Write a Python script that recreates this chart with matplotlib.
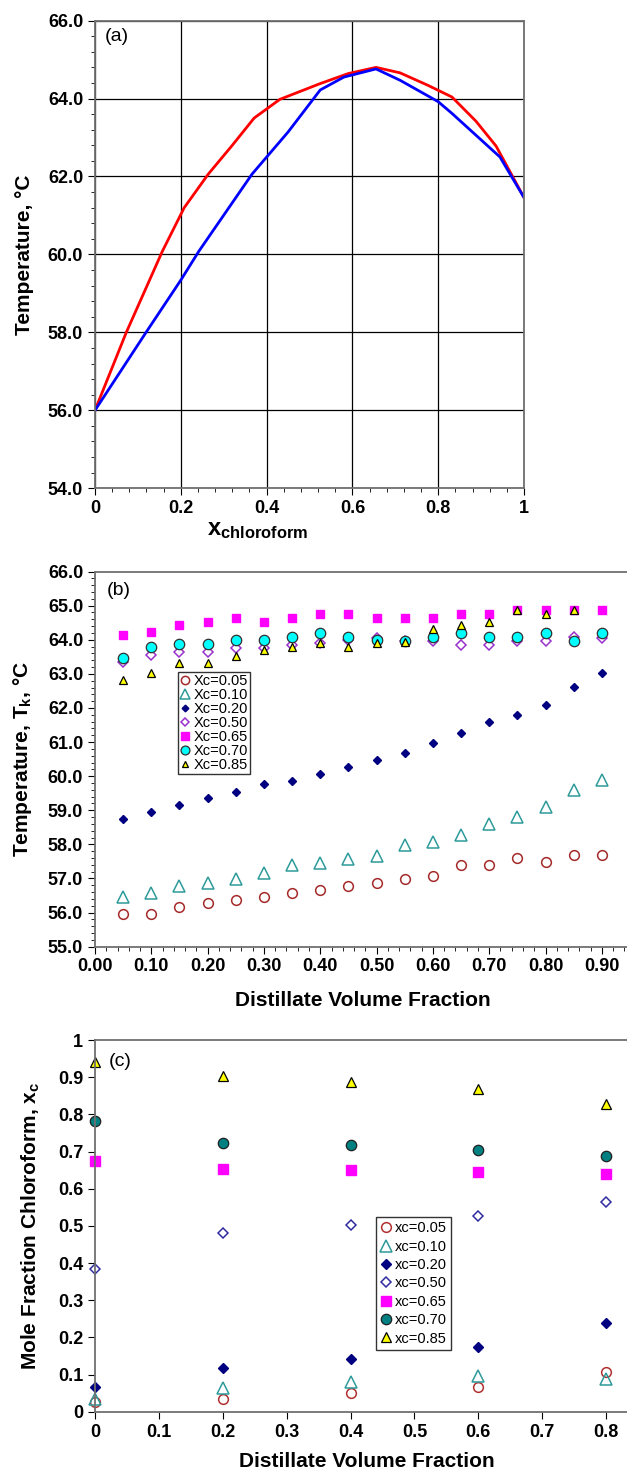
import numpy as np
import matplotlib
matplotlib.use('Agg')
import matplotlib.pyplot as plt
from matplotlib.ticker import MultipleLocator, FuncFormatter, FormatStrFormatter

plt.rcParams['font.family'] = ['Liberation Sans', 'DejaVu Sans']
plt.rcParams['font.weight'] = 'bold'
plt.rcParams['axes.labelweight'] = 'bold'
plt.rcParams['mathtext.fontset'] = 'custom'
plt.rcParams['mathtext.bf'] = 'Liberation Sans:bold'
plt.rcParams['mathtext.rm'] = 'Liberation Sans:bold'
plt.rcParams['mathtext.default'] = 'bf'

# (a) T-x-y diagram, acetone / chloroform
x_red = [0.0, 0.073, 0.157, 0.208, 0.264, 0.32, 0.371, 0.431, 0.524, 0.59, 0.655,
         0.711, 0.776, 0.832, 0.888, 0.935, 1.0]
T_red = [56.0, 58.0, 60.08, 61.2, 62.06, 62.8, 63.5, 63.98, 64.38, 64.64, 64.8,
         64.66, 64.34, 64.04, 63.42, 62.78, 61.46]
x_blue = [0.0, 0.119, 0.2, 0.242, 0.366, 0.45, 0.525, 0.58, 0.655, 0.711, 0.8,
          0.832, 0.944, 1.0]
T_blue = [56.0, 58.0, 59.34, 60.08, 62.06, 63.14, 64.22, 64.55, 64.76, 64.47, 63.92,
          63.62, 62.5, 61.46]

# (b) temperature vs distillate volume fraction
dvf_b = [0.05, 0.10, 0.15, 0.20, 0.25, 0.30, 0.35, 0.40, 0.45, 0.50, 0.55, 0.60,
         0.65, 0.70, 0.75, 0.80, 0.85, 0.90]
T_xc005 = [55.97, 55.97, 56.17, 56.27, 56.37, 56.47, 56.57, 56.67, 56.77, 56.87,
           56.98, 57.08, 57.39, 57.39, 57.59, 57.49, 57.68, 57.69]
T_xc010 = [56.46, 56.58, 56.77, 56.87, 56.97, 57.16, 57.38, 57.46, 57.57, 57.67,
           57.97, 58.07, 58.28, 58.59, 58.8, 59.09, 59.6, 59.89]
T_xc020 = [58.75, 58.95, 59.15, 59.36, 59.55, 59.76, 59.85, 60.07, 60.26, 60.48,
           60.67, 60.98, 61.28, 61.58, 61.79, 62.09, 62.61, 63.02]
T_xc050 = [63.35, 63.55, 63.65, 63.65, 63.75, 63.75, 63.85, 63.9, 64.0, 64.05,
           63.95, 63.95, 63.85, 63.85, 63.95, 63.95, 64.08, 64.05]
T_xc065 = [64.14, 64.24, 64.44, 64.53, 64.65, 64.53, 64.65, 64.75, 64.75, 64.65,
           64.63, 64.63, 64.75, 64.75, 64.86, 64.86, 64.86, 64.86]
T_xc070 = [63.48, 63.78, 63.88, 63.88, 64.0, 64.0, 64.09, 64.19, 64.09, 63.98,
           63.97, 64.08, 64.19, 64.08, 64.08, 64.19, 63.97, 64.19]
T_xc085 = [62.82, 63.02, 63.31, 63.31, 63.51, 63.7, 63.8, 63.9, 63.8, 63.9,
           63.92, 64.31, 64.44, 64.53, 64.86, 64.75, 64.86]

# (c) distillate mole fraction chloroform
dvf_c = [0.0, 0.2, 0.4, 0.6, 0.8]
x_xc005 = [0.027, 0.034, 0.049, 0.066, 0.108]
x_xc010 = [0.033, 0.063, 0.079, 0.096, 0.087]
x_xc020 = [0.066, 0.117, 0.142, 0.175, 0.240]
x_xc050 = [0.385, 0.480, 0.502, 0.526, 0.565]
x_xc065 = [0.675, 0.652, 0.649, 0.646, 0.639]
x_xc070 = [0.782, 0.724, 0.717, 0.703, 0.687]
x_xc085 = [0.941, 0.902, 0.887, 0.867, 0.829]

fig = plt.figure(figsize=(6.27, 14.72), dpi=100)
ax1 = fig.add_axes([0.1515, 0.6683, 0.6842, 0.3177])
ax2 = fig.add_axes([0.1515, 0.3569, 0.8533, 0.2548])
ax3 = fig.add_axes([0.1515, 0.04096, 0.866, 0.2525])

spine_col = '#707070'
for ax in (ax1, ax2, ax3):
    for s in ax.spines.values():
        s.set_color(spine_col)
        s.set_linewidth(1.3)
    ax.tick_params(which='both', direction='out', labelsize=13, colors='black')
    ax.tick_params(which='major', length=5)
    ax.tick_params(which='minor', length=3)

# ---------- (a)
ax1.plot(x_red, T_red, color='#FF0000', lw=2.0)
ax1.plot(x_blue, T_blue, color='#0000FF', lw=2.0)
ax1.set_xlim(0, 1)
ax1.set_ylim(54, 66)
ax1.xaxis.set_major_locator(MultipleLocator(0.2))
ax1.xaxis.set_minor_locator(MultipleLocator(0.04))
ax1.yaxis.set_major_locator(MultipleLocator(2))
ax1.yaxis.set_minor_locator(MultipleLocator(0.4))
ax1.xaxis.set_major_formatter(FuncFormatter(lambda v, p: '{:g}'.format(round(v, 2))))
ax1.yaxis.set_major_formatter(FormatStrFormatter('%.1f'))
ax1.grid(True, which='major', color='black', lw=0.9)
ax1.set_axisbelow(True)
ax1.set_ylabel('Temperature, °C', fontsize=15, fontweight='bold')
ax1.yaxis.set_label_coords(-0.142, 0.5)
ax1.set_xlabel(r'x$_{\mathbf{chloroform}}$', fontsize=17, fontweight='bold')
ax1.xaxis.set_label_coords(0.38, -0.064)
ax1.text(0.023, 0.984, '(a)', transform=ax1.transAxes, fontsize=14,
         fontweight='normal', va='top', ha='left')

# ---------- (b)
ax2.plot(dvf_b, T_xc005, ls='none', marker='o', ms=7, mfc='none', mec='#A52A2A', mew=1.1, label='Xc=0.05')
ax2.plot(dvf_b, T_xc010, ls='none', marker='^', ms=8, mfc='none', mec='#2E9A9A', mew=1.1, label='Xc=0.10')
ax2.plot(dvf_b, T_xc020, ls='none', marker='D', ms=4, mfc='#000080', mec='#000080', label='Xc=0.20')
ax2.plot(dvf_b, T_xc050, ls='none', marker='D', ms=5, mfc='none', mec='#9932CC', mew=1.1, label='Xc=0.50')
ax2.plot(dvf_b, T_xc065, ls='none', marker='s', ms=6, mfc='#FF00FF', mec='#FF00FF', label='Xc=0.65')
ax2.plot(dvf_b, T_xc070, ls='none', marker='o', ms=7.5, mfc='#00FFFF', mec='#303030', mew=0.9, label='Xc=0.70')
ax2.plot(dvf_b[:len(T_xc085)], T_xc085, ls='none', marker='^', ms=5.5, mfc='#FFFF00', mec='black', mew=0.9, label='Xc=0.85')
ax2.set_xlim(0, 0.95)
ax2.set_ylim(55, 66)
ax2.xaxis.set_major_locator(MultipleLocator(0.1))
ax2.xaxis.set_minor_locator(MultipleLocator(0.02))
ax2.yaxis.set_major_locator(MultipleLocator(1))
ax2.yaxis.set_minor_locator(MultipleLocator(0.2))
ax2.xaxis.set_major_formatter(FormatStrFormatter('%.2f'))
ax2.yaxis.set_major_formatter(FormatStrFormatter('%.1f'))
ax2.set_ylabel(r'Temperature, T$_{\mathbf{k}}$, °C', fontsize=15, fontweight='bold')
ax2.yaxis.set_label_coords(-0.114, 0.5)
ax2.set_xlabel('Distillate Volume Fraction', fontsize=15, fontweight='bold')
ax2.xaxis.set_label_coords(0.5, -0.118)
ax2.text(0.022, 0.972, '(b)', transform=ax2.transAxes, fontsize=14,
         fontweight='normal', va='top', ha='left')
leg2 = ax2.legend(loc='upper left', bbox_to_anchor=(0.155, 0.733), borderaxespad=0,
                  prop={'weight': 'normal', 'size': 10.5}, labelspacing=0.0,
                  handlelength=0.7, handletextpad=0.2, borderpad=0.15,
                  markerscale=0.85, fancybox=False, framealpha=1, edgecolor='#333333')
leg2.get_frame().set_linewidth(1.0)

# ---------- (c)
ax3.plot(dvf_c, x_xc005, ls='none', marker='o', ms=7, mfc='none', mec='#B03030', mew=1.1, label='xc=0.05', clip_on=False)
ax3.plot(dvf_c, x_xc010, ls='none', marker='^', ms=8, mfc='none', mec='#2E9A9A', mew=1.1, label='xc=0.10', clip_on=False)
ax3.plot(dvf_c, x_xc020, ls='none', marker='D', ms=5.5, mfc='#000080', mec='#000080', label='xc=0.20', clip_on=False)
ax3.plot(dvf_c, x_xc050, ls='none', marker='D', ms=5.5, mfc='none', mec='#2E2EA0', mew=1.1, label='xc=0.50', clip_on=False)
ax3.plot(dvf_c, x_xc065, ls='none', marker='s', ms=7.5, mfc='#FF00FF', mec='#FF00FF', label='xc=0.65', clip_on=False)
ax3.plot(dvf_c, x_xc070, ls='none', marker='o', ms=7.5, mfc='#008080', mec='#202020', mew=0.9, label='xc=0.70', clip_on=False)
ax3.plot(dvf_c, x_xc085, ls='none', marker='^', ms=7.5, mfc='#FFFF00', mec='black', mew=0.9, label='xc=0.85', clip_on=False)
ax3.set_xlim(0, 0.85)
ax3.set_ylim(0, 1)
ax3.xaxis.set_major_locator(MultipleLocator(0.1))
ax3.yaxis.set_major_locator(MultipleLocator(0.1))
ax3.xaxis.set_major_formatter(FuncFormatter(lambda v, p: '{:g}'.format(round(v, 2))))
ax3.yaxis.set_major_formatter(FuncFormatter(lambda v, p: '{:g}'.format(round(v, 2))))
ax3.set_ylabel(r'Mole Fraction Chloroform, x$_{\mathbf{c}}$', fontsize=15, fontweight='bold')
ax3.yaxis.set_label_coords(-0.098, 0.5)
ax3.set_xlabel('Distillate Volume Fraction', fontsize=15, fontweight='bold')
ax3.xaxis.set_label_coords(0.5, -0.108)
ax3.text(0.026, 0.965, '(c)', transform=ax3.transAxes, fontsize=14,
         fontweight='normal', va='top', ha='left')
leg3 = ax3.legend(loc='upper left', bbox_to_anchor=(0.517, 0.524), borderaxespad=0,
                  prop={'weight': 'normal', 'size': 10.5}, labelspacing=0.3,
                  handlelength=0.8, handletextpad=0.2, borderpad=0.3,
                  fancybox=False, framealpha=1, edgecolor='#333333')
leg3.get_frame().set_linewidth(1.0)

for ax in (ax1, ax2, ax3):
    for lab in ax.get_xticklabels() + ax.get_yticklabels():
        lab.set_fontweight('bold')

fig.savefig('out.png', dpi=100)
